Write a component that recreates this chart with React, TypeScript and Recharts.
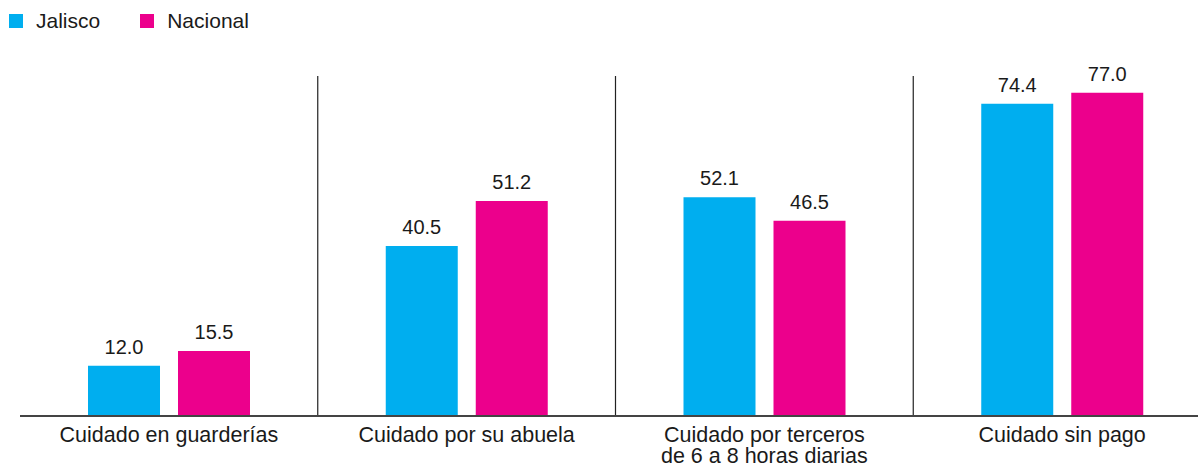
import { BarChart, Bar, XAxis, YAxis, LabelList, Legend, ReferenceLine } from "recharts"

const categories = [
  "Cuidado en guarderías",
  "Cuidado por su abuela",
  "Cuidado por terceros\nde 6 a 8 horas diarias",
  "Cuidado sin pago",
]
const jalisco = [12.0, 40.5, 52.1, 74.4]
const nacional = [15.5, 51.2, 46.5, 77.0]
const seriesNames = ["Jalisco", "Nacional"]
const seriesColors = ["#00AEEF", "#EC008C"]

const FONT = "'Liberation Sans', Arial, Helvetica, sans-serif"
const TEXT = "#1a1a1a"

const data = categories.map((c, i) => ({
  cat: c,
  jalisco: jalisco[i],
  nacional: nacional[i],
}))

const CategoryTick = (props: any) => {
  const { x, y, payload } = props
  const lines = String(payload.value).split("\n")
  return (
    <text x={x} y={y} textAnchor="middle" fill={TEXT} fontSize={21.5} fontFamily={FONT}>
      {lines.map((l: string, i: number) => (
        <tspan key={i} x={x} dy={i === 0 ? 18 : 21}>
          {l}
        </tspan>
      ))}
    </text>
  )
}

const LegendBox = () => (
  <div style={{ display: "flex", alignItems: "center", fontFamily: FONT, fontSize: 21, color: TEXT }}>
    {seriesNames.map((n, i) => (
      <div key={n} style={{ display: "flex", alignItems: "center", marginRight: i === 0 ? 40 : 0 }}>
        <span style={{ width: 14, height: 14, background: seriesColors[i], display: "inline-block", marginRight: 13 }} />
        <span>{n}</span>
      </div>
    ))}
  </div>
)

const fmt = (v: any) => Number(v).toFixed(1)

export default function App() {
  return (
    <div style={{ position: "absolute", top: 0, left: 0, width: 1198, height: 466, overflow: "hidden" }}>
      <BarChart
        width={1230}
        height={466}
        data={data}
        margin={{ top: 76, right: 19, left: 20, bottom: 20 }}
        barGap={18}
      >
        <XAxis
          dataKey="cat"
          height={30}
          tickLine={false}
          axisLine={{ stroke: "#444", strokeWidth: 2 }}
          tick={<CategoryTick />}
          interval={0}
        />
        <YAxis hide domain={[0, 81]} />
        {categories.slice(1).map((c) => (
          <ReferenceLine key={c} x={c} position="start" stroke="#222" strokeWidth={1.2} />
        ))}
        <Legend
          verticalAlign="middle"
          content={<LegendBox />}
          wrapperStyle={{ top: 9, left: 9, width: "auto" }}
        />
        <Bar dataKey="jalisco" name="Jalisco" fill={seriesColors[0]} barSize={72} isAnimationActive={false}>
          <LabelList dataKey="jalisco" position="top" offset={12} formatter={fmt} fill={TEXT} fontSize={20} fontFamily={FONT} />
        </Bar>
        <Bar dataKey="nacional" name="Nacional" fill={seriesColors[1]} barSize={72} isAnimationActive={false}>
          <LabelList dataKey="nacional" position="top" offset={12} formatter={fmt} fill={TEXT} fontSize={20} fontFamily={FONT} />
        </Bar>
      </BarChart>
    </div>
  )
}
